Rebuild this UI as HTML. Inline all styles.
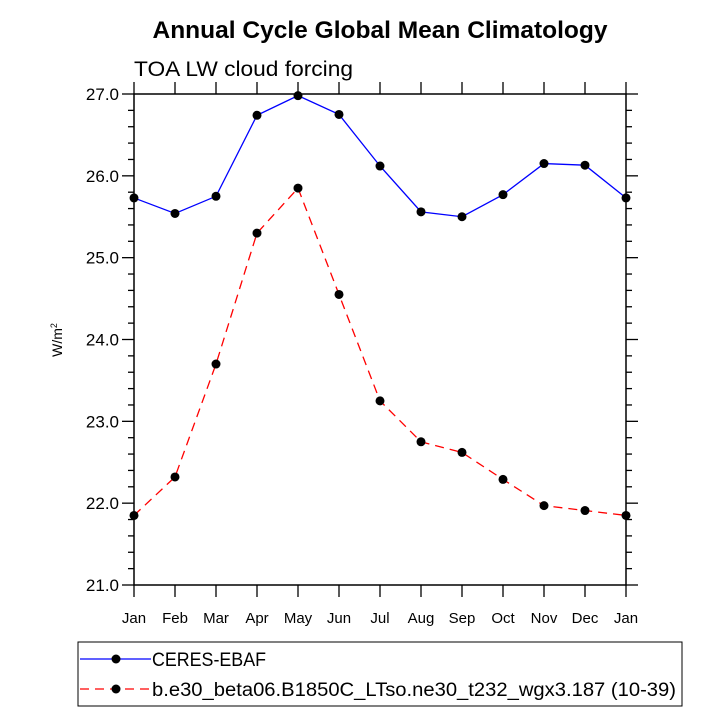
<!DOCTYPE html>
<html><head><meta charset="utf-8"><style>body{margin:0;background:#fff}svg{display:block;font-family:"Liberation Sans",sans-serif}</style></head>
<body>
<svg id="c" width="727" height="727">
<text x="380" y="38" text-anchor="middle" font-size="24" font-weight="bold" textLength="455" lengthAdjust="spacingAndGlyphs">Annual Cycle Global Mean Climatology</text>
<text x="134" y="76" font-size="21" textLength="219" lengthAdjust="spacingAndGlyphs">TOA LW cloud forcing</text>
<text transform="translate(62,340) rotate(-90)" text-anchor="middle" font-size="14">W/m<tspan dy="-5" font-size="9">2</tspan></text>
<g id="axes"></g><g id="series"></g>
<rect x="78" y="642" width="604" height="64" fill="none" stroke="#000"/>
<g><line x1="80" y1="659" x2="151" y2="659" stroke="#00f" stroke-width="1.3"/><circle cx="116" cy="659" r="4.5"/><text x="152" y="666" font-size="19" textLength="114" lengthAdjust="spacingAndGlyphs">CERES-EBAF</text></g>
<g><line x1="80" y1="689" x2="151" y2="689" stroke="#f00" stroke-width="1.3" stroke-dasharray="9,6"/><circle cx="116" cy="689" r="4.5"/><text x="152" y="696" font-size="19" textLength="524" lengthAdjust="spacingAndGlyphs">b.e30_beta06.B1850C_LTso.ne30_t232_wgx3.187 (10-39)</text></g>
</svg>
<script>
const months=["Jan","Feb","Mar","Apr","May","Jun","Jul","Aug","Sep","Oct","Nov","Dec","Jan"];
const ceres=[25.73,25.54,25.75,26.74,26.98,26.75,26.12,25.56,25.50,25.77,26.15,26.13,25.73];
const model=[21.85,22.32,23.70,25.30,25.85,24.55,23.25,22.75,22.62,22.29,21.97,21.91,21.85];
const yTicks=[21,22,23,24,25,26,27];
const X0=134,X1=626,Y0=585,Y1=94,ymin=21,ymax=27;
const NS="http://www.w3.org/2000/svg";
const xs=i=>X0+(X1-X0)*i/(months.length-1);
const ys=v=>Y0-(Y0-Y1)*(v-ymin)/(ymax-ymin);
function mk(t,a,p){const e=document.createElementNS(NS,t);for(const k in a)e.setAttribute(k,a[k]);p.appendChild(e);return e;}
const ax=document.getElementById('axes');
const frame=mk('rect',{x:X0,y:Y1,width:X1-X0,height:Y0-Y1,fill:'none',stroke:'#000','stroke-width':1.5},ax);


for(let v=ymin;v<=ymax+1e-9;v+=0.2){const y=ys(v);const maj=Math.abs(v-Math.round(v))<1e-6;const L=maj?12:6;
mk('line',{x1:X0-L,y1:y,x2:X0,y2:y,stroke:'#000','stroke-width':1.3},ax);mk('line',{x1:X1,y1:y,x2:X1+L,y2:y,stroke:'#000','stroke-width':1.3},ax);}
yTicks.forEach(v=>{const t=mk('text',{x:X0-15,y:ys(v)+6,'text-anchor':'end','font-size':17},ax);t.textContent=v.toFixed(1);

});
months.forEach((m,i)=>{const x=xs(i);mk('line',{x1:x,y1:Y0,x2:x,y2:Y0+12,stroke:'#000','stroke-width':1.3},ax);mk('line',{x1:x,y1:Y1-12,x2:x,y2:Y1,stroke:'#000','stroke-width':1.3},ax);
const t=mk('text',{x:x,y:Y0+38,'text-anchor':'middle','font-size':15},ax);t.textContent=m;

});
const sg=document.getElementById('series');
function draw(d,col,dash,name){const g=mk('g',{},sg);


mk('polyline',{points:d.map((v,i)=>xs(i)+','+ys(v)).join(' '),fill:'none',stroke:col,'stroke-width':1.3,'stroke-dasharray':dash},g);
d.forEach((v,i)=>{const c=mk('circle',{cx:xs(i),cy:ys(v),r:4.5},g);

});}
draw(model,'#f00','9,6','series-model');
draw(ceres,'#00f','none','series-ceres');
</script>
</body></html>
